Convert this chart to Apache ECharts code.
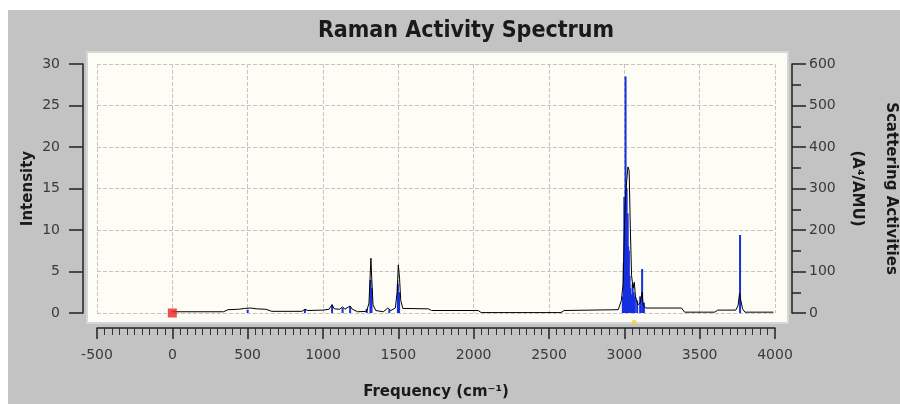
<!DOCTYPE html>
<html>
<head>
<meta charset="utf-8">
<script src="https://cdn.jsdelivr.net/npm/echarts@6/dist/echarts.min.js"></script>
<style>
html, body { margin: 0; padding: 0; background: #fff; }
#chart {
  width: 900px; height: 404px;
  background:
    linear-gradient(#fdfdf6, #fdfdf6) 88px 53px / 699px 269px no-repeat,
    linear-gradient(#d6d6d6, #d6d6d6) 86px 51px / 703px 273px no-repeat,
    linear-gradient(#c3c3c3, #c3c3c3) 8px 10px / 892px 394px no-repeat,
    #fff;
}
</style>
</head>
<body>
<div id="chart"></div>
<script>
// broadened spectrum (left axis, Intensity)
var specFreq = [0, 340, 370, 440, 480, 520, 560, 620, 660, 860, 880, 900, 1000, 1040, 1060, 1075, 1110, 1130, 1145, 1180, 1195, 1230,
  1290, 1305, 1312, 1318, 1324, 1332, 1350, 1400, 1430, 1450, 1480, 1492, 1500, 1508, 1516, 1530, 1700, 1720, 2030, 2050,
  2580, 2600, 2960, 2980, 2992, 3000, 3008, 3016, 3024, 3032, 3040, 3048, 3058, 3066, 3074, 3090, 3105, 3118, 3125, 3140,
  3380, 3400, 3600, 3620, 3740, 3755, 3765, 3772, 3785, 3800, 3990]
var specInt = [0.15, 0.15, 0.4, 0.45, 0.55, 0.6, 0.5, 0.45, 0.2, 0.2, 0.45, 0.3, 0.35, 0.45, 1.0, 0.5, 0.45, 0.75, 0.45, 0.85, 0.45, 0.15,
  0.2, 1.2, 4.0, 6.6, 4.0, 1.0, 0.3, 0.15, 0.6, 0.3, 0.6, 2.5, 5.8, 4.2, 1.5, 0.55, 0.5, 0.3, 0.3, 0.05,
  0.05, 0.3, 0.4, 1.5, 3.5, 10, 14, 16, 17.6, 17.2, 10, 4.5, 3, 3.7, 2, 1.0, 1.2, 2.5, 1.0, 0.6,
  0.6, 0.1, 0.1, 0.35, 0.35, 0.9, 2.4, 1.6, 0.5, 0.1, 0.1]

// stick activities (right axis, A^4/AMU)
var stickFreq = [500, 880, 1060, 1130, 1180, 1290, 1315, 1322, 1440, 1497, 1505,
  2990, 2996, 3000, 3004, 3008, 3012, 3015, 3019, 3022, 3026, 3030, 3035, 3040, 3047, 3055, 3062, 3070, 3085, 3105, 3118, 3130, 3768]
var stickAct = [8, 8, 20, 12, 15, 10, 80, 60, 8, 70, 50,
  40, 120, 280, 260, 570, 280, 300, 220, 240, 160, 150, 90, 60, 45, 70, 50, 40, 30, 40, 106, 25, 188]

var xTicks = { min: -500, max: 4000, step: 500 }
var leftTicks = { min: 0, max: 30, step: 5 }
var rightTicks = { min: 0, max: 600, step: 100 }

var chart = echarts.init(document.getElementById('chart'))

var lineData = specFreq.map(function (f, i) { return [f, specInt[i]] })
var stickData = stickFreq.map(function (f, i) { return [f, stickAct[i]] })

var labelFont = { fontFamily: 'DejaVu Sans', fontSize: 14, color: '#3a3a3a', formatter: function (v) { return String(v) } }
var nameFont = { fontFamily: 'DejaVu Sans', fontSize: 15, fontWeight: 'bold', color: '#1a1a1a' }

var option = {
  animation: false,
  title: {
    text: 'Raman Activity Spectrum',
    left: 461,
    textAlign: 'center',
    top: 15,
    textStyle: { fontFamily: "'Liberation Sans Narrow', 'DejaVu Sans Condensed', 'Liberation Sans', sans-serif", fontWeight: 'bold', fontSize: 23, color: '#1a1a1a' }
  },
  grid: { left: 97, right: 125, top: 64, bottom: 91, outerBoundsMode: 'none', containLabel: false },
  xAxis: {
    type: 'value',
    min: xTicks.min, max: xTicks.max, interval: xTicks.step,
    offset: 15,
    axisLine: { show: true, onZero: false, lineStyle: { color: '#222', width: 1.5 } },
    axisTick: { show: true, length: 11, lineStyle: { color: '#222', width: 1.5 } },
    minorTick: { show: true, splitNumber: 10, length: 7, lineStyle: { color: '#333' } },
    axisLabel: Object.assign({ margin: 20 }, labelFont),
    splitLine: { show: true, lineStyle: { type: 'dashed', color: '#c4c4c4' } },
    name: 'Frequency (cm⁻¹)',
    nameLocation: 'middle',
    nameMoveOverlap: false,
    nameGap: 57,
    nameTextStyle: nameFont
  },
  yAxis: [
    {
      type: 'value',
      position: 'left',
      min: leftTicks.min, max: leftTicks.max, interval: leftTicks.step,
      offset: 14,
      axisLine: { show: true, onZero: false, lineStyle: { color: '#222', width: 1.5 } },
      axisTick: { show: true, length: 14, lineStyle: { color: '#222', width: 1.5 } },
      axisLabel: Object.assign({ margin: 23 }, labelFont),
      splitLine: { show: true, lineStyle: { type: 'dashed', color: '#c4c4c4' } },
      name: 'Intensity',
      nameLocation: 'middle',
      nameMoveOverlap: false,
      nameGap: 47,
      nameTextStyle: nameFont
    },
    {
      type: 'value',
      position: 'right',
      min: rightTicks.min, max: rightTicks.max, interval: rightTicks.step,
      offset: 17,
      axisLine: { show: true, onZero: false, lineStyle: { color: '#222', width: 1.5 } },
      axisTick: { show: true, length: 14, lineStyle: { color: '#222', width: 1.5 } },
      minorTick: { show: true, splitNumber: 2, length: 9, lineStyle: { color: '#222', width: 1.5 } },
      axisLabel: Object.assign({ margin: 17 }, labelFont),
      splitLine: { show: false },
      name: 'Scattering Activities\n(A⁴/AMU)',
      nameLocation: 'middle',
      nameMoveOverlap: false,
      nameRotate: -90,
      nameGap: 48,
      nameTextStyle: Object.assign({ lineHeight: 34 }, nameFont)
    }
  ],
  series: [
    {
      type: 'bar',
      yAxisIndex: 1,
      barWidth: 2,
      barGap: '-100%',
      itemStyle: { color: '#1630e0' },
      data: stickData,
      z: 2
    },
    {
      type: 'line',
      yAxisIndex: 0,
      showSymbol: false,
      lineStyle: { color: '#000', width: 1 },
      data: lineData,
      z: 3
    },
    {
      type: 'scatter',
      yAxisIndex: 0,
      symbol: 'rect',
      symbolSize: 9,
      clip: false,
      itemStyle: { color: '#e82424' },
      data: [[0, 0]],
      z: 4
    },
    {
      type: 'scatter',
      yAxisIndex: 0,
      symbolSize: 5,
      clip: false,
      itemStyle: { color: '#f0d040' },
      data: [[3066, -1.1]],
      z: 4
    }
  ]
}

chart.setOption(option)
</script>
</body>
</html>
